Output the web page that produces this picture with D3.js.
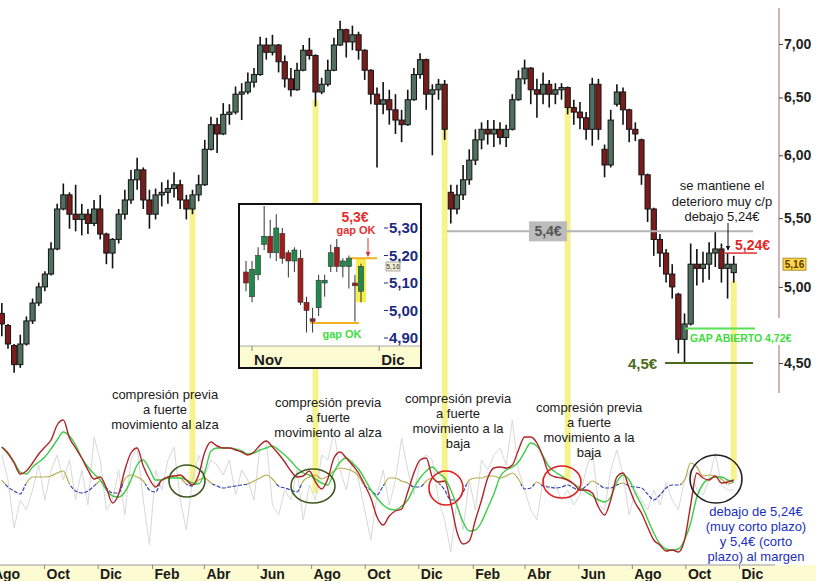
<!DOCTYPE html>
<html><head><meta charset="utf-8">
<script src="https://cdn.jsdelivr.net/npm/d3@7"></script>
<style>body{margin:0;background:#fff}svg{display:block;font-family:Arial,"Liberation Sans",sans-serif}</style>
</head><body><svg id="c" width="816" height="581"></svg>
<script>
// ---------- DATA ----------
const startDate = new Date(2013, 7, 14);   // first weekly bar
const barStepDays = 7;
// weekly bars [open, high, low, close] in €
const priceBars = [
[4.82,4.89,4.67,4.75],[4.74,4.75,4.59,4.62],[4.61,4.62,4.44,4.49],[4.49,4.68,4.47,4.62],[4.62,4.80,4.61,4.77],
[4.77,4.92,4.75,4.89],[4.89,5.03,4.87,5.00],[5.00,5.11,4.97,5.09],[5.09,5.32,5.08,5.27],[5.27,5.61,5.26,5.57],
[5.57,5.77,5.56,5.68],[5.68,5.70,5.42,5.53],[5.53,5.76,5.40,5.49],[5.49,5.61,5.37,5.53],[5.53,5.57,5.38,5.46],
[5.46,5.64,5.44,5.57],[5.57,5.68,5.34,5.38],[5.38,5.39,5.16,5.24],[5.24,5.35,5.13,5.34],[5.34,5.57,5.31,5.53],
[5.53,5.72,5.49,5.64],[5.64,5.88,5.61,5.80],[5.80,5.98,5.72,5.88],[5.88,5.90,5.57,5.64],[5.64,5.72,5.42,5.53],
[5.53,5.73,5.49,5.68],[5.68,5.78,5.59,5.70],[5.70,5.80,5.61,5.73],[5.73,5.86,5.66,5.76],[5.76,5.80,5.57,5.64],
[5.64,5.68,5.49,5.57],[5.57,5.72,5.53,5.68],[5.68,5.84,5.63,5.76],[5.76,6.13,5.75,6.05],[6.05,6.33,6.04,6.26],
[6.26,6.32,6.02,6.18],[6.18,6.45,6.17,6.35],[6.35,6.44,6.26,6.37],[6.37,6.60,6.35,6.53],[6.53,6.63,6.30,6.55],
[6.55,6.73,6.53,6.64],[6.64,6.77,6.59,6.71],[6.71,7.07,6.70,6.99],[6.99,7.06,6.85,6.92],[6.92,7.09,6.89,6.99],
[6.99,7.00,6.73,6.83],[6.83,6.89,6.59,6.67],[6.67,6.77,6.51,6.57],[6.57,6.82,6.56,6.75],[6.75,6.99,6.74,6.94],
[6.94,7.06,6.85,6.89],[6.89,6.90,6.42,6.55],[6.55,6.68,6.53,6.62],[6.62,6.85,6.60,6.75],[6.75,7.06,6.74,6.99],
[6.99,7.23,6.98,7.14],[7.14,7.15,6.87,7.02],[7.02,7.18,6.94,7.09],[7.09,7.12,6.85,6.94],[6.94,6.95,6.66,6.75],
[6.75,6.76,6.44,6.53],[6.53,6.59,5.90,6.44],[6.44,6.64,6.35,6.48],[6.48,6.57,6.26,6.39],[6.39,6.53,6.18,6.30],
[6.30,6.39,6.11,6.26],[6.26,6.57,6.25,6.48],[6.48,6.77,6.47,6.71],[6.71,6.91,6.67,6.85],[6.85,6.86,6.39,6.53],
[6.53,6.62,6.00,6.57],[6.57,6.67,6.48,6.62],[6.62,6.66,6.13,6.22],[5.70,5.76,5.46,5.57],[5.57,5.76,5.53,5.68],
[5.68,5.92,5.64,5.80],[5.80,6.05,5.76,5.96],[5.96,6.22,5.92,6.13],[6.13,6.28,6.05,6.22],[6.22,6.30,6.09,6.18],
[6.18,6.30,6.07,6.22],[6.22,6.28,6.09,6.15],[6.15,6.26,6.07,6.22],[6.22,6.53,6.21,6.48],[6.48,6.75,6.47,6.67],
[6.67,6.85,6.62,6.77],[6.77,6.78,6.44,6.57],[6.57,6.67,6.32,6.53],[6.53,6.73,6.44,6.62],[6.62,6.66,6.41,6.53],
[6.53,6.63,6.44,6.57],[6.57,6.63,6.48,6.59],[6.59,6.60,6.35,6.41],[6.41,6.48,6.26,6.37],[6.37,6.46,6.22,6.32],
[6.32,6.37,6.13,6.22],[6.22,6.68,6.08,6.62],[6.62,6.67,6.13,6.22],[6.05,6.09,5.82,5.92],[5.92,6.39,5.90,6.30],
[6.44,6.62,6.42,6.55],[6.55,6.59,6.26,6.39],[6.39,6.40,6.11,6.22],[6.22,6.28,6.12,6.18],[6.13,6.14,5.76,5.84],
[5.84,5.85,5.47,5.57],[5.57,5.58,5.22,5.34],[5.34,5.38,5.14,5.24],[5.24,5.27,5.03,5.09],[5.09,5.16,4.92,5.00],
[4.95,4.96,4.56,4.65],[4.65,4.82,4.50,4.75],[4.75,5.31,4.74,5.16],[5.16,5.27,5.01,5.13],[5.13,5.25,5.03,5.16],
[5.16,5.32,5.05,5.24],[5.24,5.40,5.14,5.27],[5.27,5.31,5.03,5.13],[5.13,5.24,4.92,5.16],[5.10,5.22,5.03,5.16]
];
// lower panel oscillators (panel units 0..150)
const redLine = [113,107,97,86,89,97,106,113,120,135,140,122,112,102,90,81,83,72,57,66,
90,107,112,94,81,73,80,83,84,85,80,75,85,108,118,114,112,112,110,108,
105,108,115,119,113,106,98,89,83,84,89,78,71,81,102,108,102,95,87,75,
62,43,35,44,49,51,68,87,100,102,83,78,79,57,28,16,19,40,60,82,
92,93,92,95,110,123,123,117,103,86,83,82,80,76,70,70,67,53,45,60,
83,87,72,57,47,33,20,15,9,10,8,20,55,87,82,80,84,77,78,80];
const greenLine = [113,106,98,88,86,93,98,103,111,120,128,124,115,102,93,86,80,70,64,63,
68,80,95,100,91,80,80,82,82,82,80,77,76,88,109,112,112,112,111,109,
106,107,110,112,114,110,105,99,92,87,85,81,77,75,88,98,102,97,91,81,
70,62,55,51,50,54,60,72,82,89,93,87,82,70,54,38,29,30,38,52,
66,83,90,93,98,108,117,114,104,93,88,84,80,76,72,68,64,60,58,63,
78,85,80,67,55,41,27,16,11,10,11,20,37,63,76,81,83,83,80,78];
const signalLine = [80,73,69,66,77,83,83,83,84,87,89,76,69,67,69,74,79,72,67,67,
81,85,83,79,70,68,80,82,84,82,76,74,80,82,77,74,72,73,74,75,
76,79,82,85,81,74,72,70,68,79,83,85,81,84,89,92,91,89,84,74,
70,65,74,82,82,79,77,73,73,79,82,77,70,60,60,68,80,82,82,84,
84,82,84,87,81,71,72,78,74,73,72,73,75,72,70,74,79,76,72,72,
75,77,74,73,72,66,60,65,72,75,75,80,97,93,84,85,84,81,76,78];
const signalThreshold = 76;
const grayLine = [105,80,32,60,50,70,95,60,90,105,80,100,60,90,55,123,100,50,60,90,
45,100,113,60,15,90,70,100,113,60,30,80,105,85,100,95,85,100,65,90,
80,60,115,120,55,45,70,60,90,40,75,60,105,100,128,90,70,100,80,50,
20,65,90,55,80,122,90,65,100,105,100,60,40,8,60,30,80,50,100,90,
105,112,95,140,90,70,50,40,80,70,75,60,70,55,65,90,110,55,50,90,
110,85,45,70,60,50,70,55,77,60,50,80,90,70,65,80,107,75,70,70];
const monthTicks = [[2013,7],[2013,9],[2013,11],[2014,1],[2014,3],[2014,5],[2014,7],[2014,9],[2014,11],
                    [2015,1],[2015,3],[2015,5],[2015,7],[2015,9],[2015,11]];
const monthLabels = ["Ago","Oct","Dic","Feb","Abr","Jun","Ago","Oct","Dic","Feb","Abr","Jun","Ago","Oct","Dic"];
const priceTicks = [4.5,5.0,5.5,6.0,6.5,7.0];
const lastPrice = 5.16;
// highlight columns: bar index, top price, bottom panel value
const highlightBars = [[31,5.62,77],[51,6.48,67],[72,6.48,77],[92,6.52,80],[119,5.04,80]];
// inset daily candles [open, high, low, close]
const insetBars = [
[5.14,5.18,5.07,5.10],[5.05,5.18,5.03,5.15],[5.13,5.23,5.11,5.20],[5.24,5.38,5.22,5.27],[5.27,5.33,5.19,5.21],
[5.21,5.35,5.18,5.30],[5.28,5.30,5.17,5.19],[5.21,5.22,5.12,5.18],[5.18,5.23,5.14,5.22],[5.19,5.22,5.02,5.03],
[5.03,5.05,4.92,5.00],[4.97,5.01,4.92,4.96],[5.01,5.13,4.98,5.11],[5.10,5.13,5.05,5.11],[5.16,5.24,5.14,5.21],
[5.23,5.26,5.14,5.16],[5.16,5.19,5.12,5.18],[5.16,5.20,5.08,5.19],[5.10,5.13,4.96,5.09],[5.07,5.17,5.03,5.16]
];
const insetTicks = [4.9,5.0,5.1,5.2,5.3];
const insetMonths = [[1,"Nov"],[22,"Dic"]];
const levelSupport = 4.5, levelGap = 4.72, levelShort = 5.24, levelMid = 5.4;
const insetGapLow = 4.955, insetGapHigh = 5.19;

// ---------- SCALES ----------
const svg = d3.select("#c");
const x = d3.scaleTime().domain([new Date(2013,9,1), new Date(2015,11,1)]).range([44,739]);
const y = d3.scaleLog().domain([4.5,7]).range([363,44]);
const yi = d3.scaleLinear().domain([0,150]).range([560,410]);
const dates = priceBars.map((_,i)=>d3.timeDay.offset(startDate, barStepDays*i));
const fmt = d => d3.format(".2f")(d).replace(".",",");

// ---------- HIGHLIGHTS ----------
svg.append("g").selectAll("rect").data(highlightBars).join("rect")
  .attr("x", d=>x(dates[d[0]])-3).attr("width",6)
  .attr("y", d=>y(d[1])).attr("height", d=>yi(d[2])-y(d[1]))
  .attr("fill","#f7f38c");

// ---------- LOWER PANEL ----------
const lp = svg.append("g");
const lineGen = (arr, curve) => d3.line().x((d,i)=>x(dates[i])).y(d=>yi(d)).curve(curve)(arr);
lp.append("path").attr("d", lineGen(grayLine, d3.curveLinear)).attr("fill","none").attr("stroke","#d8d8d8").attr("stroke-width",1);
const defs = svg.append("defs");
defs.append("clipPath").attr("id","above").append("rect").attr("x",0).attr("y",0).attr("width",816).attr("height",yi(signalThreshold));
defs.append("clipPath").attr("id","below").append("rect").attr("x",0).attr("y",yi(signalThreshold)).attr("width",816).attr("height",581);
lp.append("path").attr("d", lineGen(signalLine, d3.curveMonotoneX)).attr("fill","none").attr("stroke","#b8ad50").attr("stroke-width",1.2).attr("clip-path","url(#above)");
lp.append("path").attr("d", lineGen(signalLine, d3.curveMonotoneX)).attr("fill","none").attr("stroke","#3346b0").attr("stroke-width",1.2).attr("stroke-dasharray","4,1.5").attr("clip-path","url(#below)");
lp.append("path").attr("d", lineGen(greenLine, d3.curveMonotoneX)).attr("fill","none").attr("stroke","#3ccc48").attr("stroke-width",1.4);
lp.append("path").attr("d", lineGen(redLine, d3.curveMonotoneX)).attr("fill","none").attr("stroke","#b02428").attr("stroke-width",1.4);

// ---------- CANDLES ----------
const cg = svg.append("g");
cg.selectAll("line").data(priceBars).join("line")
  .attr("x1",(d,i)=>x(dates[i])).attr("x2",(d,i)=>x(dates[i]))
  .attr("y1",d=>y(d[1])).attr("y2",d=>y(d[2])).attr("stroke","#111").attr("stroke-width",1.6);
cg.selectAll("rect").data(priceBars).join("rect")
  .attr("x",(d,i)=>x(dates[i])-2.6).attr("width",5.2)
  .attr("y",d=>y(Math.max(d[0],d[3]))).attr("height",d=>Math.max(1.5,Math.abs(y(d[0])-y(d[3]))))
  .attr("fill",d=>d[3]>=d[0]?"#52705f":"#7a1c1c").attr("stroke","#151515").attr("stroke-width",1);

// ---------- LEVELS ----------
const ann = svg.append("g");
ann.append("line").attr("x1",447).attr("x2",753).attr("y1",y(levelMid)).attr("y2",y(levelMid)).attr("stroke","#b4b4b4").attr("stroke-width",2);
ann.append("rect").attr("x",529).attr("y",y(levelMid)-10).attr("width",38).attr("height",20).attr("fill","#bcbcbc");
ann.append("text").attr("x",548).attr("y",y(levelMid)+5).attr("text-anchor","middle").attr("font-size",14).attr("font-weight","bold").attr("fill","#555").text("5,4€");
ann.append("line").attr("x1",725).attr("x2",757).attr("y1",y(levelShort)).attr("y2",y(levelShort)).attr("stroke","#e03030").attr("stroke-width",1.5);
ann.append("text").attr("x",735).attr("y",y(levelShort)-3).attr("font-size",14).attr("font-weight","bold").attr("fill","#e02828").text("5,24€");
ann.append("line").attr("x1",685).attr("x2",755).attr("y1",y(levelGap)).attr("y2",y(levelGap)).attr("stroke","#55e055").attr("stroke-width",2);
ann.append("text").attr("x",690).attr("y",y(levelGap)+13).attr("font-size",10.5).attr("font-weight","bold").attr("fill","#3ddc3d").text("GAP ABIERTO 4,72€");
ann.append("line").attr("x1",665).attr("x2",753).attr("y1",y(levelSupport)).attr("y2",y(levelSupport)).attr("stroke","#4a6a1c").attr("stroke-width",2);
ann.append("text").attr("x",628).attr("y",y(levelSupport)+6).attr("font-size",15).attr("font-weight","bold").attr("fill","#4a6a1c").text("4,5€");
const note = ["se mantiene el","deterioro muy c/p","debajo 5,24€"];
ann.selectAll("text.note").data(note).join("text").attr("class","note")
  .attr("x",722).attr("y",(d,i)=>190+i*15.5).attr("text-anchor","middle").attr("font-size",13).attr("fill","#1a1a1a").text(d=>d);
defs.append("marker").attr("id","ab").attr("viewBox","0 0 10 10").attr("refX",9).attr("refY",5).attr("markerWidth",5).attr("markerHeight",5).attr("orient","auto")
  .append("path").attr("d","M0,0L10,5L0,10z").attr("fill","#111");
defs.append("marker").attr("id","ar").attr("viewBox","0 0 10 10").attr("refX",9).attr("refY",5).attr("markerWidth",5).attr("markerHeight",5).attr("orient","auto")
  .append("path").attr("d","M0,0L10,5L0,10z").attr("fill","#e03030");
ann.append("line").attr("x1",728).attr("x2",728).attr("y1",223).attr("y2",y(levelShort)-3).attr("stroke","#111").attr("stroke-width",1).attr("marker-end","url(#ab)");

// ---------- RIGHT AXIS ----------
const ra = svg.append("g");
ra.append("line").attr("x1",779).attr("x2",779).attr("y1",8).attr("y2",318).attr("stroke","#c49a9a").attr("stroke-width",1.5);
ra.append("line").attr("x1",779).attr("x2",779).attr("y1",345).attr("y2",393).attr("stroke","#c49a9a").attr("stroke-width",1.5);
const axR = ra.append("g").attr("transform","translate(779,0)")
  .call(d3.axisRight(y).tickValues(priceTicks).tickSize(4).tickPadding(1).tickFormat(fmt));
axR.select(".domain").remove();
axR.selectAll("line").attr("stroke","#444");
axR.selectAll("text").attr("font-size",14).attr("font-weight","bold").attr("fill","#222").attr("font-family","Arial, Liberation Sans, sans-serif");
ra.append("rect").attr("x",783).attr("y",y(lastPrice)-6).attr("width",23).attr("height",12).attr("fill","#ffd94a").attr("stroke","#9a7a10").attr("stroke-width",0.8);
ra.append("text").attr("x",794.5).attr("y",y(lastPrice)+4).attr("text-anchor","middle").attr("font-size",10).attr("font-weight","bold").attr("fill","#5a3a00").text(fmt(lastPrice));

// ---------- BOTTOM AXIS ----------
svg.append("rect").attr("x",0).attr("y",565).attr("width",816).attr("height",16).attr("fill","#fdfbd2");
svg.append("line").attr("x1",0).attr("x2",775).attr("y1",565).attr("y2",565).attr("stroke","#9a9a9a").attr("stroke-width",1.2);
const axB = svg.append("g").attr("transform","translate(0,565)")
  .call(d3.axisBottom(x).tickValues(monthTicks.map(m=>new Date(m[0],m[1],1))).tickSize(4).tickPadding(0).tickFormat((d,i)=>monthLabels[i]));
axB.select(".domain").remove();
axB.selectAll("line").attr("stroke","#888");
axB.selectAll("text").attr("text-anchor","start").attr("dx",2).attr("font-size",14).attr("font-weight","bold").attr("fill","#1a1a1a").attr("font-family","Arial, Liberation Sans, sans-serif");

// ---------- INSET ----------
const ins = svg.append("g");
const IX0=239, IY0=204, IX1=421, IY1=368;
ins.append("rect").attr("x",IX0).attr("y",IY0).attr("width",IX1-IX0).attr("height",IY1-IY0).attr("fill","#fff");
const ix = d3.scaleLinear().domain([0,insetBars.length-1]).range([246,361]);
const iy = d3.scaleLinear().domain([4.9,5.3]).range([338,228]);
const li = insetBars.length-1;
ins.append("rect").attr("x",ix(li)-5).attr("y",iy(5.17)-5).attr("width",10).attr("height",iy(5.03)-iy(5.17)+5).attr("fill","#f4ee50");
ins.append("line").attr("x1",ix(11)-2).attr("x2",ix(18)+4).attr("y1",iy(insetGapLow)).attr("y2",iy(insetGapLow)).attr("stroke","#f0b020").attr("stroke-width",2);
ins.append("line").attr("x1",ix(17)+1).attr("x2",ix(li)+16).attr("y1",iy(insetGapHigh)).attr("y2",iy(insetGapHigh)).attr("stroke","#f0b020").attr("stroke-width",2);
ins.selectAll("line.w").data(insetBars).join("line").attr("class","w")
  .attr("x1",(d,i)=>ix(i)).attr("x2",(d,i)=>ix(i)).attr("y1",d=>iy(d[1])).attr("y2",d=>iy(d[2])).attr("stroke","#333").attr("stroke-width",1);
ins.selectAll("rect.b").data(insetBars).join("rect").attr("class","b")
  .attr("x",(d,i)=>ix(i)-2.5).attr("width",5)
  .attr("y",d=>iy(Math.max(d[0],d[3]))).attr("height",d=>Math.max(1.5,Math.abs(iy(d[0])-iy(d[3]))))
  .attr("fill",d=>d[3]>=d[0]?"#1f8a4c":"#a01e1e").attr("stroke","#333").attr("stroke-width",0.6);
ins.selectAll("line.t").data(insetTicks).join("line").attr("class","t")
  .attr("x1",384).attr("x2",388).attr("y1",d=>iy(d)).attr("y2",d=>iy(d)).attr("stroke","#1c2a80");
ins.selectAll("text.t").data(insetTicks).join("text").attr("class","t")
  .attr("x",389).attr("y",d=>iy(d)+5).attr("font-size",15).attr("font-weight","bold").attr("fill","#1c2a80").text(fmt);
ins.append("rect").attr("x",386).attr("y",iy(lastPrice)-4.5).attr("width",14).attr("height",9).attr("fill","#f5f0d5").attr("stroke","#777").attr("stroke-width",0.6);
ins.append("text").attr("x",393).attr("y",iy(lastPrice)+2.5).attr("text-anchor","middle").attr("font-size",7).attr("fill","#333").text(fmt(lastPrice));
ins.append("text").attr("x",355).attr("y",222).attr("text-anchor","middle").attr("font-size",14).attr("font-weight","bold").attr("fill","#e53030").text("5,3€");
ins.append("text").attr("x",356).attr("y",234).attr("text-anchor","middle").attr("font-size",11).attr("font-weight","bold").attr("fill","#e53030").text("gap OK");
ins.append("line").attr("x1",368).attr("x2",368).attr("y1",238).attr("y2",iy(insetGapHigh)-2).attr("stroke","#e03030").attr("stroke-width",1).attr("marker-end","url(#ar)");
ins.append("text").attr("x",342).attr("y",338).attr("text-anchor","middle").attr("font-size",11).attr("font-weight","bold").attr("fill","#3ddc3d").text("gap OK");
ins.append("rect").attr("x",IX0).attr("y",346).attr("width",IX1-IX0).attr("height",IY1-346).attr("fill","#fdfbd2");
ins.append("line").attr("x1",IX0).attr("x2",IX1).attr("y1",346).attr("y2",346).attr("stroke","#aaa");
ins.selectAll("line.m").data(insetMonths).join("line").attr("class","m")
  .attr("x1",d=>ix(d[0])).attr("x2",d=>ix(d[0])).attr("y1",346).attr("y2",351).attr("stroke","#888");
ins.selectAll("text.m").data(insetMonths).join("text").attr("class","m")
  .attr("x",d=>ix(d[0])+2).attr("y",365).attr("font-size",15).attr("font-weight","bold").attr("fill","#1a1a1a").text(d=>d[1]);
ins.append("rect").attr("x",IX0).attr("y",IY0).attr("width",IX1-IX0).attr("height",IY1-IY0).attr("fill","none").attr("stroke","#111").attr("stroke-width",2);

// ---------- PANEL NOTES ----------
const ellipses = [[187,481,18,16,"#3d5a1e"],[313,486,22,17,"#3d5a1e"],[446,488,17,17,"#e02020"],[562,482,19,16,"#e02020"],[716,479,26,24,"#222"]];
svg.append("g").selectAll("ellipse").data(ellipses).join("ellipse")
  .attr("cx",d=>d[0]).attr("cy",d=>d[1]).attr("rx",d=>d[2]).attr("ry",d=>d[3])
  .attr("fill","none").attr("stroke",d=>d[4]).attr("stroke-width",1.6);
const notes = [
 [165,399,["compresión previa","a fuerte","movimiento al alza"],"#1a1a1a"],
 [328,407,["compresión previa","a fuerte","movimiento al alza"],"#1a1a1a"],
 [458,403,["compresión previa","a fuerte","movimiento a la","baja"],"#1a1a1a"],
 [589,412,["compresión previa","a fuerte","movimiento a la","baja"],"#1a1a1a"],
 [756,516,["debajo de 5,24€","(muy corto plazo)","y 5,4€ (corto","plazo) al margen"],"#2030c0"]
];
notes.forEach(n=>{
  svg.append("g").selectAll("text").data(n[2]).join("text")
    .attr("x",n[0]).attr("y",(d,i)=>n[1]+i*15).attr("text-anchor","middle").attr("font-size",13).attr("fill",n[3]).text(d=>d);
});
</script></body></html>
